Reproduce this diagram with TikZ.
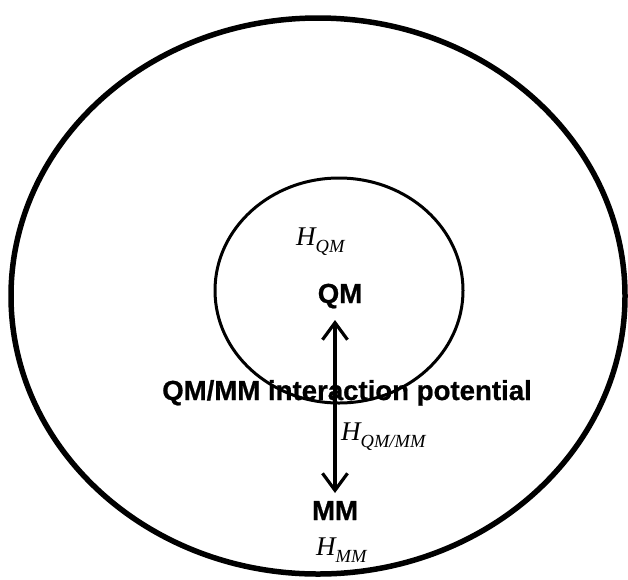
\documentclass[tikz,border=0pt]{standalone}
\usepackage{fontspec}
\setmainfont{Liberation Sans}[BoldFeatures={FakeBold=0.8}]
\newfontfamily\timesf{Liberation Serif}
\usetikzlibrary{arrows.meta}
\newcommand{\hlab}[1]{{\timesf\itshape\fontsize{27}{29}\selectfont H\raisebox{-0.28em}{\fontsize{18.5}{20}\selectfont #1}}}
\tikzset{
  lbl/.style={font=\bfseries\fontsize{27.6}{30}\selectfont, inner sep=0pt},
  hl/.style={inner sep=0pt, anchor=base west},
  ring/.style={draw=black},
  dbl/.style={line width=3.2pt, {Straight Barb[length=17pt,width=25pt,line width=3.2pt]}-{Straight Barb[length=17pt,width=25pt,line width=3.2pt]}}
}
\begin{document}
\begin{tikzpicture}[x=1pt,y=-1pt]
\useasboundingbox (0,0) rectangle (628,579);
\draw[ring, line width=5.5pt] (318,296) ellipse [x radius=307, y radius=278];
\draw[ring, line width=3pt] (339,290.5) ellipse [x radius=124, y radius=112.5];
\node[lbl, anchor=base] (qm) at (340,303) {QM};
\node[lbl, anchor=base] (mm) at (335,520) {MM};
\node[lbl, anchor=base] (inter) at (347,400) {QM/MM interaction potential};
\node[hl] (hqm) at (296,245) {\hlab{QM}};
\node[hl] (hqmmm) at (341,440) {\hlab{QM/MM}};
\node[hl] (hmm) at (316,555) {\hlab{MM}};
\coordinate (qmtip) at (335,320);
\coordinate (mmtip) at (335,493);
\draw[dbl] (qmtip) -- (mmtip);
\end{tikzpicture}
\end{document}
